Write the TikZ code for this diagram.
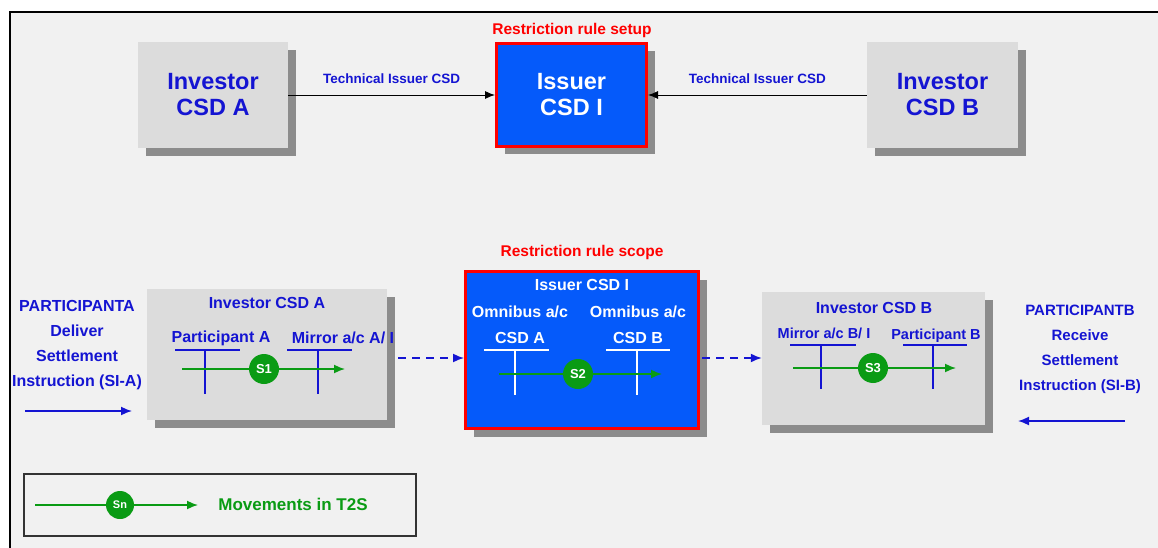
\documentclass[tikz,border=0pt]{standalone}
\usepackage{fontspec}
\setmainfont{Liberation Sans}
\usetikzlibrary{shadows,arrows.meta}
\definecolor{csdblue}{RGB}{20,20,210}
\definecolor{issuerfill}{RGB}{5,90,250}
\definecolor{t2sgreen}{RGB}{10,155,20}
\definecolor{boxgray}{RGB}{220,220,220}
\definecolor{bggray}{RGB}{241,241,241}

\begin{document}
\begin{tikzpicture}[x=1pt,y=-1pt,
  csdbox/.style={fill=boxgray,draw=none,drop shadow={shadow xshift=8pt,shadow yshift=-8pt,fill=gray!90,opacity=1}},
  issuerbox/.style={fill=issuerfill,draw=red,line width=3pt,drop shadow={shadow xshift=8pt,shadow yshift=-8pt,fill=gray!90,opacity=1}},
  bigtxt/.style={font=\fontsize{23.5}{26}\selectfont\bfseries,align=center},
  smalltxt/.style={font=\fontsize{13.5}{15}\selectfont\bfseries,text=csdblue},
  midtxt/.style={font=\fontsize{16}{18}\selectfont\bfseries},
  redtxt/.style={font=\fontsize{15.5}{17}\selectfont\bfseries,text=red},
  sn/.style={circle,fill=t2sgreen,text=white,inner sep=0pt,minimum size=30pt,font=\fontsize{13}{13}\selectfont\bfseries},
  move/.style={draw=t2sgreen,line width=1.6pt,-{Latex[length=11pt,width=9pt]}},
  blueline/.style={csdblue,line width=1.6pt,-{Latex[length=11pt,width=9pt]}},
  tacc/.style={line width=1.3pt}]
\useasboundingbox (0,0) rectangle (1158,548);
\fill[white] (0,0) rectangle (1158,548);
\fill[bggray] (10,12) rectangle (1158,548);
\draw[line width=1.8pt] (10,548) -- (10,12) -- (1158,12);

% top row: rule setup
\node[csdbox,minimum width=150pt,minimum height=106pt,bigtxt,text=csdblue] (topA) at (213,95) {Investor\\CSD A};
\node[issuerbox,minimum width=150pt,minimum height=103pt,bigtxt,text=white] (topI) at (571.5,95) {Issuer\\CSD I};
\node[csdbox,minimum width=151pt,minimum height=106pt,bigtxt,text=csdblue] (topB) at (942.5,95) {Investor\\CSD B};
\node[redtxt] (setup) at (572,30) {Restriction rule setup};
\draw[-{Latex[length=10pt,width=8pt]},line width=0.9pt] (topA) -- node[smalltxt,above=8pt] {Technical Issuer CSD} (topI);
\draw[-{Latex[length=10pt,width=8pt]},line width=0.9pt] (topB) -- node[smalltxt,above=8pt] {Technical Issuer CSD} (topI);

% bottom row: rule scope
\node[csdbox,minimum width=240pt,minimum height=131pt] (botA) at (267,354.5) {};
\node[issuerbox,minimum width=233pt,minimum height=157pt] (botI) at (582,350) {};
\node[csdbox,minimum width=223pt,minimum height=133pt] (botB) at (873.5,358.5) {};
\node[redtxt] (scope) at (582,252) {Restriction rule scope};

\node[midtxt,text=csdblue] (titleA) at (267,303) {Investor CSD A};
\node[midtxt,text=csdblue] (partA) at (221,338) {Participant A};
\node[midtxt,text=csdblue] (mirA) at (343,338) {Mirror a/c A/ I};
\draw[tacc,csdblue] (175,350) -- (240,350) (205,350) -- (205,394);
\draw[tacc,csdblue] (287,350) -- (352,350) (318,350) -- (318,394);
\coordinate (a1) at (182,369);
\coordinate (a2) at (345,369);
\draw[move] (a1) -- (a2);
\node[sn] (S1) at (264,369) {S1};

\node[midtxt,text=white] (titleI) at (582,285) {Issuer CSD I};
\node[midtxt,text=white] (omnA) at (520,312) {Omnibus a/c};
\node[midtxt,text=white] (omnB) at (638,312) {Omnibus a/c};
\node[midtxt,text=white] (csdA) at (520,338) {CSD A};
\node[midtxt,text=white] (csdB) at (638,338) {CSD B};
\draw[tacc,white] (484,350) -- (549,350) (515,350) -- (515,395);
\draw[tacc,white] (606,350) -- (670,350) (637,350) -- (637,395);
\coordinate (i1) at (499,374);
\coordinate (i2) at (662,374);
\draw[move] (i1) -- (i2);
\node[sn] (S2) at (578,374) {S2};

\node[midtxt,text=csdblue] (titleB) at (874,308) {Investor CSD B};
\node[midtxt,text=csdblue,font=\fontsize{14.5}{16}\selectfont\bfseries] (mirB) at (824,333) {Mirror a/c B/ I};
\node[midtxt,text=csdblue,font=\fontsize{14.5}{16}\selectfont\bfseries] (partB) at (936,336) {Participant B};
\draw[tacc,csdblue] (790,345) -- (856,345) (821,345) -- (821,389);
\draw[tacc,csdblue] (903,345) -- (967,345) (933,345) -- (933,389);
\coordinate (b1) at (793,368);
\coordinate (b2) at (956,368);
\draw[move] (b1) -- (b2);
\node[sn] (S3) at (873,368) {S3};

\draw[blueline,dash pattern=on 8pt off 6pt] (botA.east |- 0,358) ++(11,0) -- (botI.west |- 0,358);
\draw[blueline,dash pattern=on 8pt off 6pt] (botI.east |- 0,358) ++(2,0) -- (botB.west |- 0,358);

% participants
\node[text=csdblue,align=center,font=\fontsize{16}{25}\selectfont\bfseries] (pA) at (77,345) {PARTICIPANTA\\Deliver\\Settlement\\Instruction (SI-A)};
\coordinate (pa1) at (25,411);
\coordinate (pa2) at (132,411);
\draw[blueline] (pa1) -- (pa2);
\node[text=csdblue,align=center,font=\fontsize{15}{25}\selectfont\bfseries] (pB) at (1080,349) {PARTICIPANTB\\Receive\\Settlement\\Instruction (SI-B)};
\coordinate (pb1) at (1125,421);
\coordinate (pb2) at (1018,421);
\draw[blueline] (pb1) -- (pb2);

% legend
\node[draw=black!80,line width=1.5pt,minimum width=392pt,minimum height=62pt] (legend) at (220,505) {};
\coordinate (l1) at (35,505);
\coordinate (l2) at (198,505);
\draw[move] (l1) -- (l2);
\node[sn,minimum size=28pt,font=\fontsize{11}{11}\selectfont\bfseries] (Sn) at (120,505) {Sn};
\node[font=\fontsize{17}{19}\selectfont\bfseries,text=t2sgreen] (mvt) at (293,504) {Movements in T2S};
\end{tikzpicture}
\end{document}
